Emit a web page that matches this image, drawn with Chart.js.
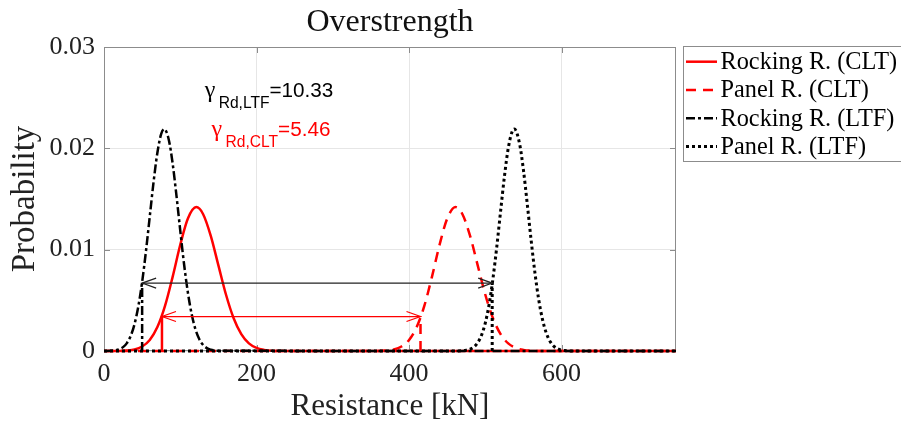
<!DOCTYPE html>
<html><head><meta charset="utf-8">
<script src="https://cdn.jsdelivr.net/npm/chart.js@4.4.1/dist/chart.umd.min.js"></script>
<style>html,body{margin:0;padding:0;background:#fff;}#wrap{width:901px;height:422px;}</style>
</head><body><div id="wrap"><canvas id="c" width="901" height="422"></canvas></div>
<script>
// ---------- DATA ----------
const seriesNames = ['Rocking R. (CLT)', 'Panel R. (CLT)', 'Rocking R. (LTF)', 'Panel R. (LTF)'];

const rockCltX = [0, 20, 30, 40, 50, 60, 70, 80, 90, 100, 110, 121, 130, 140, 150, 160, 170, 180, 190, 200, 210, 220, 230, 750];
const rockCltY = [0, 0.00001, 0.00005, 0.00015, 0.00044, 0.00109, 0.00236, 0.00445, 0.00732, 0.01048, 0.01307, 0.0142, 0.0135, 0.01136, 0.00845, 0.00555, 0.00323, 0.00166, 0.00075, 0.0003, 0.00011, 0.00003, 0.00001, 0];

const panelCltX = [0, 360, 370, 380, 390, 400, 410, 420, 430, 440, 450, 461, 470, 480, 490, 500, 510, 520, 530, 540, 550, 560, 570, 750];
const panelCltY = [0, 0.00001, 0.00005, 0.00015, 0.00044, 0.00109, 0.00236, 0.00445, 0.00732, 0.01048, 0.01307, 0.0142, 0.0135, 0.01136, 0.00845, 0.00555, 0.00323, 0.00166, 0.00075, 0.0003, 0.00011, 0.00003, 0.00001, 0];

const rockLtfX = [0, 10, 15, 20, 25, 30, 35, 40, 45, 50, 55, 60, 65, 70, 75, 79, 85, 90, 95, 100, 105, 110, 115, 120, 125, 130, 135, 140, 145, 150, 750];
const rockLtfY = [0, 0.00003, 0.00007, 0.00017, 0.00038, 0.00078, 0.00149, 0.00265, 0.0044, 0.00681, 0.00984, 0.01327, 0.01668, 0.01957, 0.02142, 0.0219, 0.02083, 0.01851, 0.01534, 0.01187, 0.00856, 0.00576, 0.00362, 0.00212, 0.00116, 0.00059, 0.00028, 0.00013, 0.00005, 0.00002, 0];

const panelLtfX = [0, 465, 470, 475, 480, 485, 490, 495, 500, 505, 510, 515, 520, 525, 530, 535, 538, 545, 550, 555, 560, 565, 570, 575, 580, 585, 590, 595, 600, 605, 610, 750];
const panelLtfY = [0, 0.00001, 0.00003, 0.00008, 0.00018, 0.0004, 0.00082, 0.00156, 0.00278, 0.00462, 0.00715, 0.01028, 0.01378, 0.0172, 0.01999, 0.02162, 0.0219, 0.02042, 0.01783, 0.01449, 0.01097, 0.00773, 0.00507, 0.0031, 0.00176, 0.00093, 0.00046, 0.00021, 0.00009, 0.00004, 0.00001, 0];

// limits (vertical marks) and arrow levels
const cltLimitsX = [76, 415];
const cltArrowY = 0.0034;
const ltfLimitsX = [50, 509];
const ltfArrowY = 0.0067;

// annotations
const gammaTexts = [
  { sub: 'Rd,LTF', val: '=10.33', x: 132, y: 0.02505, color: '#000000' },
  { sub: 'Rd,CLT', val: '=5.46',  x: 141, y: 0.0212,  color: '#ff0000' }
];

// axes
const xTickValues = [0, 200, 400, 600];
const yTickValues = [0, 0.01, 0.02, 0.03];
const yTickLabels = ['0', '0.01', '0.02', '0.03'];

// ---------- CHART ----------
const pairs = (xs, ys) => xs.map((x, i) => ({ x: x, y: ys[i] }));
const RED = '#ff0000', BLK = '#000000';
const styles = [
  { color: RED, dash: [] , width: 2.5 },
  { color: RED, dash: [10, 7], width: 2.5 },
  { color: BLK, dash: [9, 3, 3, 3], width: 2.5 },
  { color: BLK, dash: [3, 3], width: 3 }
];
const curve = (i, xs, ys, order) => ({
  label: seriesNames[i], data: pairs(xs, ys), borderColor: styles[i].color,
  borderDash: styles[i].dash, borderWidth: styles[i].width, pointRadius: 0,
  cubicInterpolationMode: 'monotone', order: order, clip: 6
});
const vline = (x, top, st, order) => ({
  label: '', data: [{ x: x, y: 0 }, { x: x, y: top }], borderColor: st.color,
  borderDash: st.dash, borderWidth: st.width, pointRadius: 0, order: order, clip: 6
});
const arrow = (x0, x1, yv, color, order) => ({
  label: '', data: [{ x: x0, y: yv }, { x: x1, y: yv }], borderColor: color,
  borderWidth: 1.2, pointRadius: 0, order: order, arrow: true
});

const datasets = [
  curve(0, rockCltX, rockCltY, 8),
  curve(1, panelCltX, panelCltY, 7),
  curve(2, rockLtfX, rockLtfY, 6),
  curve(3, panelLtfX, panelLtfY, 5),
  vline(cltLimitsX[0], cltArrowY, styles[0], 4),
  vline(cltLimitsX[1], cltArrowY, styles[1], 4),
  vline(ltfLimitsX[0], ltfArrowY, styles[2], 4),
  vline(ltfLimitsX[1], ltfArrowY, styles[3], 4),
  arrow(cltLimitsX[0], cltLimitsX[1], cltArrowY, RED, 1),
  arrow(ltfLimitsX[0], ltfLimitsX[1], ltfArrowY, '#222222', 1)
];

const AXC = '#8c8c8c';
const frame = {
  id: 'frame',
  beforeDatasetsDraw(chart) {
    const { ctx, chartArea: a, scales: { x, y } } = chart;
    ctx.save();
    ctx.strokeStyle = AXC; ctx.lineWidth = 1;
    ctx.strokeRect(Math.round(a.left) + 0.5, Math.round(a.top) + 0.5,
      Math.round(a.right - a.left) - 1, Math.round(a.bottom - a.top) - 1);
    ctx.beginPath();
    xTickValues.forEach(v => {
      const px = Math.round(x.getPixelForValue(v)) + 0.5;
      ctx.moveTo(px, a.bottom); ctx.lineTo(px, a.bottom - 6);
      ctx.moveTo(px, a.top); ctx.lineTo(px, a.top + 6);
    });
    yTickValues.forEach(v => {
      const py = Math.round(y.getPixelForValue(v)) + 0.5;
      ctx.moveTo(a.left, py); ctx.lineTo(a.left + 6, py);
      ctx.moveTo(a.right, py); ctx.lineTo(a.right - 6, py);
    });
    ctx.stroke();
    ctx.restore();
  },
  afterDatasetsDraw(chart) {
    const { ctx } = chart;
    chart.data.datasets.forEach((ds, i) => {
      if (!ds.arrow) return;
      const pts = chart.getDatasetMeta(i).data;
      const p0 = pts[0], p1 = pts[1];
      ctx.save();
      ctx.strokeStyle = ds.borderColor; ctx.lineWidth = 1.2;
      ctx.beginPath();
      ctx.moveTo(p0.x + 14, p0.y - 5); ctx.lineTo(p0.x, p0.y); ctx.lineTo(p0.x + 14, p0.y + 5);
      ctx.moveTo(p1.x - 14, p1.y - 5); ctx.lineTo(p1.x, p1.y); ctx.lineTo(p1.x - 14, p1.y + 5);
      ctx.stroke();
      ctx.restore();
    });
  },
  afterDraw(chart) {
    const { ctx, scales: { x, y } } = chart;
    // annotations
    gammaTexts.forEach(t => {
      let px = x.getPixelForValue(t.x);
      const py = y.getPixelForValue(t.y);
      ctx.save();
      ctx.fillStyle = t.color; ctx.textBaseline = 'alphabetic'; ctx.textAlign = 'left';
      ctx.font = '24px "Liberation Serif"';
      ctx.fillText('γ', px, py);
      px += 14;
      ctx.font = '15.6px "Liberation Sans"';
      ctx.fillText(t.sub, px, py + 10.5);
      px += ctx.measureText(t.sub).width;
      ctx.font = '20.7px "Liberation Sans"';
      ctx.fillText(t.val, px, py);
      ctx.restore();
    });
    // legend
    ctx.save();
    ctx.strokeStyle = AXC; ctx.lineWidth = 1;
    ctx.strokeRect(683.5, 46.5, 240, 115);
    seriesNames.forEach((name, i) => {
      const cy = 61.7 + i * 28.3;
      const st = styles[i];
      ctx.beginPath();
      ctx.strokeStyle = st.color; ctx.lineWidth = st.width; ctx.setLineDash(st.dash);
      ctx.moveTo(686, cy); ctx.lineTo(717, cy); ctx.stroke();
      ctx.setLineDash([]);
      ctx.fillStyle = '#000'; ctx.font = '24.3px "Liberation Serif"';
      ctx.textBaseline = 'middle'; ctx.textAlign = 'left';
      ctx.fillText(name, 720.5, cy + 1);
    });
    ctx.restore();
  }
};

new Chart(document.getElementById('c'), {
  type: 'line',
  data: { datasets: datasets },
  plugins: [frame],
  options: {
    responsive: false, animation: false, devicePixelRatio: 1,
    layout: { padding: { left: 0, right: 225, top: 0, bottom: 0 } },
    plugins: {
      legend: { display: false },
      tooltip: { enabled: false },
      title: {
        display: true, text: 'Overstrength', fullSize: false, color: '#111',
        font: { family: 'Liberation Serif', size: 32, weight: 'normal', lineHeight: 1.0 },
        padding: { top: 7, bottom: 8 }
      }
    },
    scales: {
      x: {
        type: 'linear', min: 0, max: 750,
        afterBuildTicks: s => { s.ticks = xTickValues.map(v => ({ value: v })); },
        afterFit: s => { s.height = 71; },
        grid: { color: '#e6e6e6', drawTicks: false },
        border: { display: false },
        ticks: { color: '#222', padding: 8, maxRotation: 0, font: { family: 'Liberation Serif', size: 26 }, callback: v => String(v) },
        title: { display: true, text: 'Resistance [kN]', color: '#222', padding: { top: 0, bottom: 0 },
          font: { family: 'Liberation Serif', size: 31, lineHeight: 1.0 } }
      },
      y: {
        type: 'linear', min: 0, max: 0.03,
        afterBuildTicks: s => { s.ticks = yTickValues.map(v => ({ value: v })); },
        afterFit: s => { s.width = 104; },
        grid: { color: '#e6e6e6', drawTicks: false },
        border: { display: false },
        ticks: { color: '#222', padding: 9, font: { family: 'Liberation Serif', size: 26 },
          callback: (v, i) => yTickLabels[i] },
        title: { display: true, text: 'Probability', color: '#222', padding: { top: 9, bottom: 0 },
          font: { family: 'Liberation Serif', size: 33, lineHeight: 1.0 } }
      }
    }
  }
});
</script></body></html>
